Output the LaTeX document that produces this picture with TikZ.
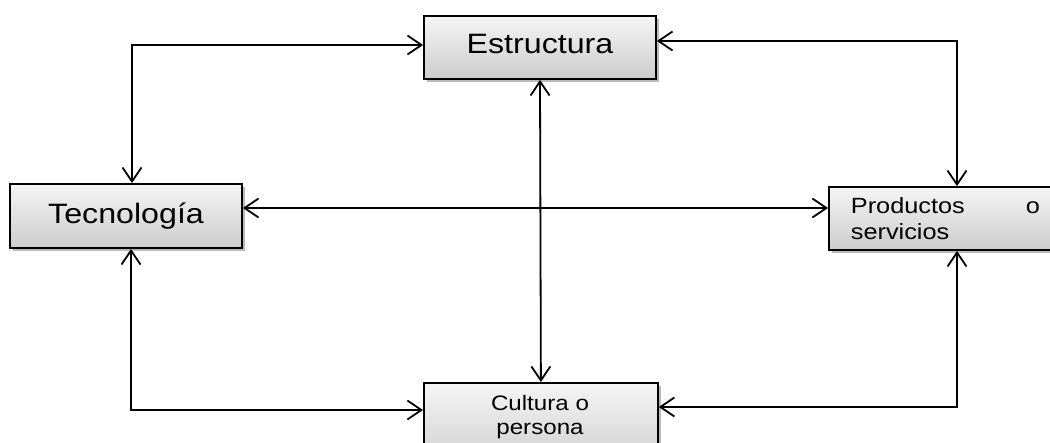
\documentclass[tikz,border=0pt]{standalone}
\usepackage{fontspec}
\setmainfont{Liberation Sans}[FakeStretch=1.15]
\usetikzlibrary{arrows.meta,shadows}
\begin{document}
\begin{tikzpicture}[x=1pt,y=-1pt,
  box/.style={draw=black, line width=1.8pt, top color=gray!8, bottom color=gray!40,
    drop shadow={shadow xshift=3pt, shadow yshift=-3pt, opacity=0.45, fill=black!60},
    inner sep=0pt},
  bigtext/.style={font=\fontsize{28}{32}\selectfont, text height=20pt},
  dbl/.style={{Straight Barb[length=14pt,width=19pt]}-{Straight Barb[length=14pt,width=19pt]}, line width=1.8pt, line join=miter}]
\useasboundingbox (0,0) rectangle (1050,442);

% boxes
\node[box, bigtext, text depth=9pt, minimum width=232pt, minimum height=63pt] (est) at (540,47.5) {Estructura};
\node[box, bigtext, text depth=6pt, minimum width=232pt, minimum height=64pt] (tec) at (126,216) {Tecnología};
\node[box, anchor=west, minimum height=63pt, text width=230pt, inner xsep=22pt, align=left,
      font=\fontsize{22}{26}\selectfont] (pro) at (828,218.5)
      {\makebox[189pt][l]{Productos\hfill o}\\servicios};
\node[box, anchor=north west, minimum width=234pt, minimum height=90pt] (cul) at (423,382) {};
\node[anchor=north, inner sep=0pt, align=center, font=\fontsize{21}{24}\selectfont] (cultxt) at (540,395) {Cultura o\\persona};

% helper corners
\coordinate (tl) at (132,45);
\coordinate (tr) at (957,41);
\coordinate (bl) at (131,410);
\coordinate (br) at (957,407);
\coordinate (mid) at (0,208);

% connectors
\draw[dbl] (est.west |- tl) -- (tl) -- (tec.north -| tl);
\draw[dbl] (est.east |- tr) -- (tr) -- (pro.north -| tr);
\draw[dbl] (tec.east |- mid) -- (pro.west |- mid);
\draw[dbl] (est.south) -- (cul.north);
\draw[dbl] (tec.south -| bl) -- (bl) -- (cul.west |- bl);
\draw[dbl] (pro.south -| br) -- (br) -- (cul.east |- br);
\end{tikzpicture}
\end{document}
